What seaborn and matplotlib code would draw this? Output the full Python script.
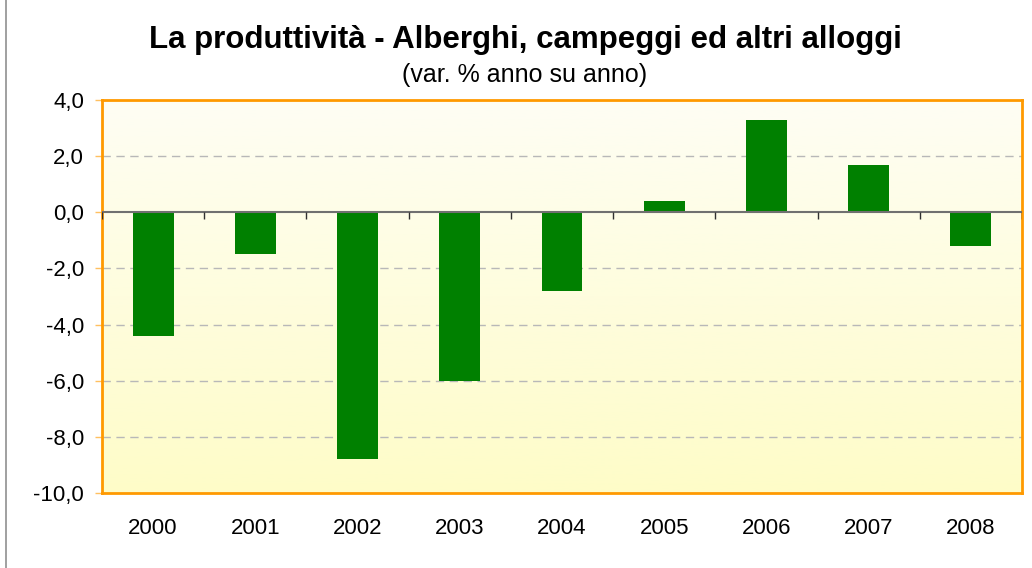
import matplotlib
matplotlib.use("Agg")
import matplotlib.pyplot as plt
import numpy as np
import pandas as pd
import seaborn as sns
from matplotlib.colors import LinearSegmentedColormap
from matplotlib.ticker import FuncFormatter

# --- Data ------------------------------------------------------------
years = ["2000", "2001", "2002", "2003", "2004", "2005", "2006", "2007", "2008"]
productivity = [-4.4, -1.5, -8.8, -6.0, -2.8, 0.4, 3.3, 1.7, -1.2]
y_ticks = [4, 2, 0, -2, -4, -6, -8, -10]

title = "La produttività - Alberghi, campeggi ed altri alloggi"
subtitle = "(var. % anno su anno)"

df = pd.DataFrame({"anno": years, "var": productivity})

sns.set_theme(style="white")
plt.rcParams["font.family"] = ["Liberation Sans", "DejaVu Sans"]
plt.rcParams["text.color"] = "black"

fig = plt.figure(figsize=(10.32, 5.68), dpi=100)
ax = fig.add_axes([102 / 1032, 1 - 493 / 568, 920 / 1032, 393 / 568])

# gradient background (pale near-white at top -> light yellow at bottom)
cmap = LinearSegmentedColormap.from_list("bg", ["#fefef4", "#fefcc8"])
grad = np.linspace(0, 1, 256).reshape(-1, 1)
ax.imshow(grad, aspect="auto", cmap=cmap, extent=[-0.5, len(years) - 0.5, -10, 4],
          origin="upper", zorder=0)

sns.barplot(data=df, x="anno", y="var", color="#008000", saturation=1,
            width=0.4, ax=ax, zorder=3, linewidth=0, edgecolor="none")

ax.set_xlim(-0.5, len(years) - 0.5)
ax.set_ylim(-10, 4)

# dashed gridlines
for t in y_ticks:
    if t not in (4, -10, 0):
        ax.axhline(t, color="#b8b8b8", lw=1, ls=(0, (6, 4)), zorder=1)

# zero line with category separator ticks
ax.axhline(0, color="#707070", lw=1.5, zorder=4)
bounds = np.arange(len(years) + 1) - 0.5
ax.vlines(bounds, -0.25, 0, color="#303030", lw=1, zorder=4)

for s in ax.spines.values():
    s.set_color("#ff9900")
    s.set_linewidth(2)
    s.set_visible(True)

ax.set_yticks(y_ticks)
ax.yaxis.set_major_formatter(FuncFormatter(lambda v, p: f"{v:.1f}".replace(".", ",")))
ax.tick_params(axis="y", length=5, width=1, color="#ffc060", labelsize=16,
               labelcolor="black", left=True, pad=8)
ax.tick_params(axis="x", length=0, labelsize=16, labelcolor="black", pad=18)
ax.set_xlabel("")
ax.set_ylabel("")

fig.text(525 / 1032, 1 - 40 / 568, title, ha="center", va="center",
         fontsize=22.5, fontweight="bold", color="black")
fig.text(525 / 1032, 1 - 75 / 568, subtitle, ha="center", va="center",
         fontsize=18, color="black")

# left frame line of the chart box
fig.add_artist(plt.Line2D([6 / 1032, 6 / 1032], [0, 1], color="#909090", lw=1.2,
                          transform=fig.transFigure))

fig.savefig("out.png", dpi=100)
